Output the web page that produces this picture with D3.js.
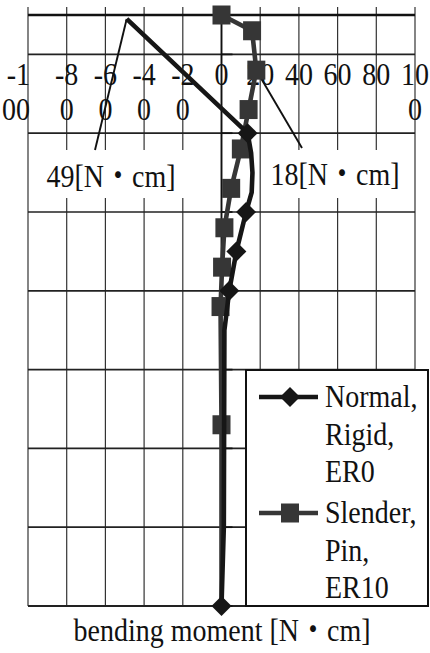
<!DOCTYPE html>
<html>
<head>
<meta charset="utf-8">
<script src="https://cdnjs.cloudflare.com/ajax/libs/d3/7.8.5/d3.min.js"></script>
<style>
  html, body { margin: 0; padding: 0; background: #fff; }
  svg { display: block; }
</style>
</head>
<body>
<div id="chart"></div>
<script>
// moment along x [N・cm], height along the member on y
var xTicks = [-100, -80, -60, -40, -20, 0, 20, 40, 60, 80, 100];
var xTickLabels = [['-1', '00'], ['-8', '0'], ['-6', '0'], ['-4', '0'], ['-2', '0'], ['0'], ['20'], ['40'], ['60'], ['80'], ['10', '0']];
var yGrid = [0, 20, 40, 60, 80, 100, 120, 140];

// Normal, Rigid, ER0 (some points have no visible marker)
var normalMoment = [-49, 13.5, 15.3, 16, 15.6, 12.7, 7.7, 4, 1.5, 1.2, 0];
var normalHeight = [149, 120, 115, 110, 105, 100, 90, 80, 70, 20, 0];
var normalMarker = [false, true, false, false, false, true, true, true, false, false, true];

// Slender, Pin, ER10
var slenderMoment = [0, 15.8, 18, 14, 10, 5, 1.5, 0.3, -0.5, 0, 0];
var slenderHeight = [150, 146, 136, 126, 116, 106, 96, 86, 76, 46, 0];
var slenderMarker = [true, true, true, true, true, true, true, true, true, true, false];

var seriesNames = [['Normal,', 'Rigid,', 'ER0'], ['Slender,', 'Pin,', 'ER10']];
var unitLabel = '[N・cm]';
var xTitle = 'bending moment ' + unitLabel;

function Chart() {
	// Exposed variables
	var attrs = {
		id: 'ID' + Math.floor(Math.random() * 1000000),
		svgWidth: 430,
		svgHeight: 653,
		marginTop: 15,
		marginBottom: 47,
		marginRight: 15,
		marginLeft: 28,
		container: 'body',
		defaultTextFill: '#111',
		defaultFont: "'Liberation Serif', 'Times New Roman', 'Noto Sans CJK JP', serif",
		fontSize: 28,
		textStretch: 1.12,
		data: null
	};

	var main = function() {
		var container = d3.select(attrs.container);

		//Calculated properties
		var calc = {};
		calc.chartLeftMargin = attrs.marginLeft;
		calc.chartTopMargin = attrs.marginTop;
		calc.chartWidth = attrs.svgWidth - attrs.marginRight - calc.chartLeftMargin;
		calc.chartHeight = attrs.svgHeight - attrs.marginBottom - calc.chartTopMargin;

		// scales
		var x = d3.scaleLinear().domain([-100, 100]).range([0, calc.chartWidth]);
		var y = d3.scaleLinear().domain([0, 150]).range([calc.chartHeight, 0]);

		// text is a bit taller than wide in the original
		var stretch = function(px, py) {
			return 'translate(' + px + ',' + py + ') scale(1,' + attrs.textStretch + ')';
		};

		//Add svg
		var svg = container
			.patternify({ tag: 'svg', selector: 'svg-chart-container' })
			.attr('width', attrs.svgWidth)
			.attr('height', attrs.svgHeight)
			.attr('font-family', attrs.defaultFont)
			.attr('font-size', attrs.fontSize)
			.attr('fill', attrs.defaultTextFill);

		var chart = svg
			.patternify({ tag: 'g', selector: 'chart' })
			.attr('transform', 'translate(' + calc.chartLeftMargin + ',' + calc.chartTopMargin + ')');

		// vertical grid (also the tick marks above the axis)
		chart
			.patternify({ tag: 'line', selector: 'x-grid', data: xTicks })
			.attr('x1', (d) => x(d))
			.attr('x2', (d) => x(d))
			.attr('y1', -8)
			.attr('y2', calc.chartHeight)
			.attr('stroke', '#333')
			.attr('stroke-width', 1.2);

		// horizontal grid
		chart
			.patternify({ tag: 'line', selector: 'y-grid', data: yGrid })
			.attr('x1', 0)
			.attr('x2', calc.chartWidth)
			.attr('y1', (d) => y(d))
			.attr('y2', (d) => y(d))
			.attr('stroke', '#222')
			.attr('stroke-width', (d) => (d === 0 ? 2 : 1.7));

		// vertical axis at zero moment
		chart
			.patternify({ tag: 'line', selector: 'y-axis' })
			.attr('x1', x(0))
			.attr('x2', x(0))
			.attr('y1', 0)
			.attr('y2', calc.chartHeight)
			.attr('stroke', '#111')
			.attr('stroke-width', 1.8);

		chart
			.patternify({ tag: 'line', selector: 'y-tick', data: yGrid })
			.attr('x1', x(0))
			.attr('x2', x(0) + 11)
			.attr('y1', (d) => y(d))
			.attr('y2', (d) => y(d))
			.attr('stroke', '#111')
			.attr('stroke-width', 1.7);

		// horizontal axis at the top
		chart
			.patternify({ tag: 'line', selector: 'x-axis' })
			.attr('x1', 0)
			.attr('x2', calc.chartWidth)
			.attr('y1', y(150))
			.attr('y2', y(150))
			.attr('stroke', '#111')
			.attr('stroke-width', 2.6);

		// tick labels, wrapped on two lines like the original
		var tickText = chart
			.patternify({ tag: 'text', selector: 'x-tick-label', data: xTicks })
			.attr('text-anchor', (d, i) => (i === 0 ? 'end' : 'middle'))
			.attr('transform', (d, i) => stretch(i === 0 ? x(d) + 2 : x(d), 70));

		tickText
			.selectAll('tspan')
			.data((d, i) => xTickLabels[i])
			.join('tspan')
			.attr('x', 0)
			.attr('dy', (d, i) => (i === 0 ? 0 : 35 / attrs.textStretch))
			.text((d) => d);

		// value call-outs (white boxes hide the grid)
		var peakNormal = d3.minIndex(normalMoment);
		var peakSlender = d3.maxIndex(slenderMoment);
		var callouts = [
			{
				text: Math.abs(normalMoment[peakNormal]) + unitLabel,
				px: x(normalMoment[peakNormal]),
				py: y(normalHeight[peakNormal]),
				box: [10, 135, 162, 48],
				tx: 83,
				ty: 172,
				lx: 67,
				ly: 135
			},
			{
				text: slenderMoment[peakSlender] + unitLabel,
				px: x(slenderMoment[peakSlender]),
				py: y(slenderHeight[peakSlender]),
				box: [238, 135, 144, 48],
				tx: 307,
				ty: 170,
				lx: 274,
				ly: 133
			}
		];

		chart
			.patternify({ tag: 'rect', selector: 'callout-box', data: callouts })
			.attr('x', (d) => d.box[0])
			.attr('y', (d) => d.box[1])
			.attr('width', (d) => d.box[2])
			.attr('height', (d) => d.box[3])
			.attr('fill', '#fff');

		chart
			.patternify({ tag: 'text', selector: 'callout-text', data: callouts })
			.attr('text-anchor', 'middle')
			.attr('transform', (d) => stretch(d.tx, d.ty))
			.text((d) => d.text);

		chart
			.patternify({ tag: 'line', selector: 'callout-line', data: callouts })
			.attr('x1', (d) => d.px)
			.attr('y1', (d) => d.py)
			.attr('x2', (d) => d.lx)
			.attr('y2', (d) => d.ly)
			.attr('stroke', '#111')
			.attr('stroke-width', 1.9);

		// series
		var series = [
			{ name: seriesNames[0], shape: 'diamond', color: '#161616',
				points: normalMoment.map((m, i) => ({ m: m, h: normalHeight[i], mark: normalMarker[i] })) },
			{ name: seriesNames[1], shape: 'square', color: '#363636',
				points: slenderMoment.map((m, i) => ({ m: m, h: slenderHeight[i], mark: slenderMarker[i] })) }
		];

		var line = d3.line().x((d) => x(d.m)).y((d) => y(d.h));

		var marker = function(sel, shape) {
			if (shape === 'diamond') {
				sel.append('path').attr('d', 'M0,-10L10,0L0,10L-10,0Z');
			} else {
				sel.append('rect').attr('x', -9).attr('y', -9.5).attr('width', 18).attr('height', 19);
			}
		};

		var seriesG = chart
			.patternify({ tag: 'g', selector: 'series', data: series.slice().reverse() })
			.attr('fill', (d) => d.color);

		seriesG
			.patternify({ tag: 'path', selector: 'series-line', data: (d) => [ d ] })
			.attr('d', (d) => line(d.points))
			.attr('fill', 'none')
			.attr('stroke', (d) => d.color)
			.attr('stroke-width', 4.6)
			.attr('stroke-linejoin', 'round');

		seriesG.each(function(s) {
			d3.select(this)
				.selectAll('g.series-marker')
				.data(s.points.filter((p) => p.mark))
				.join('g')
				.attr('class', 'series-marker')
				.attr('transform', (p) => 'translate(' + x(p.m) + ',' + y(p.h) + ')')
				.each(function() {
					d3.select(this).selectAll('*').remove();
					marker(d3.select(this), s.shape);
				});
		});

		// legend
		var legend = svg
			.patternify({ tag: 'g', selector: 'legend' })
			.attr('transform', 'translate(246,370)');

		legend
			.patternify({ tag: 'rect', selector: 'legend-box' })
			.attr('width', 182)
			.attr('height', 236)
			.attr('fill', '#fff')
			.attr('stroke', '#111')
			.attr('stroke-width', 2);

		var item = legend
			.patternify({ tag: 'g', selector: 'legend-item', data: series })
			.attr('transform', (d, i) => 'translate(0,' + (27 + i * 116) + ')')
			.attr('fill', (d) => d.color);

		item
			.patternify({ tag: 'line', selector: 'legend-line', data: (d) => [ d ] })
			.attr('x1', 13)
			.attr('x2', 72)
			.attr('stroke', (d) => d.color)
			.attr('stroke-width', 4.6);

		item.each(function(s) {
			var g = d3.select(this);
			g.selectAll('.legend-marker').remove();
			var m = g.append('g').attr('class', 'legend-marker').attr('transform', 'translate(44,0)');
			marker(m, s.shape);
		});

		item
			.patternify({ tag: 'text', selector: 'legend-text', data: (d) => d.name })
			.attr('fill', attrs.defaultTextFill)
			.attr('transform', (d, i) => stretch(79, 10 + i * 37.5))
			.text((d) => d);

		// axis title
		svg
			.patternify({ tag: 'text', selector: 'x-title' })
			.attr('text-anchor', 'middle')
			.attr('transform', stretch(222, 641))
			.text(xTitle);
	};

	//----------- PROTOTYPE FUNCTIONS  ----------------------
	d3.selection.prototype.patternify = function(params) {
		var container = this;
		var selector = params.selector;
		var elementTag = params.tag;
		var data = params.data || [ selector ];

		var selection = container.selectAll('.' + selector).data(data, (d, i) => i);
		selection.exit().remove();
		selection = selection.enter().append(elementTag).merge(selection);
		selection.attr('class', selector);
		return selection;
	};

	Object.keys(attrs).forEach((key) => {
		main[key] = function(_) {
			if (!arguments.length) return attrs[key];
			attrs[key] = _;
			return main;
		};
	});

	main.attrs = attrs;

	main.render = function() {
		main();
		return main;
	};

	return main;
}

Chart().container('#chart').data({}).render();
</script>
</body>
</html>
